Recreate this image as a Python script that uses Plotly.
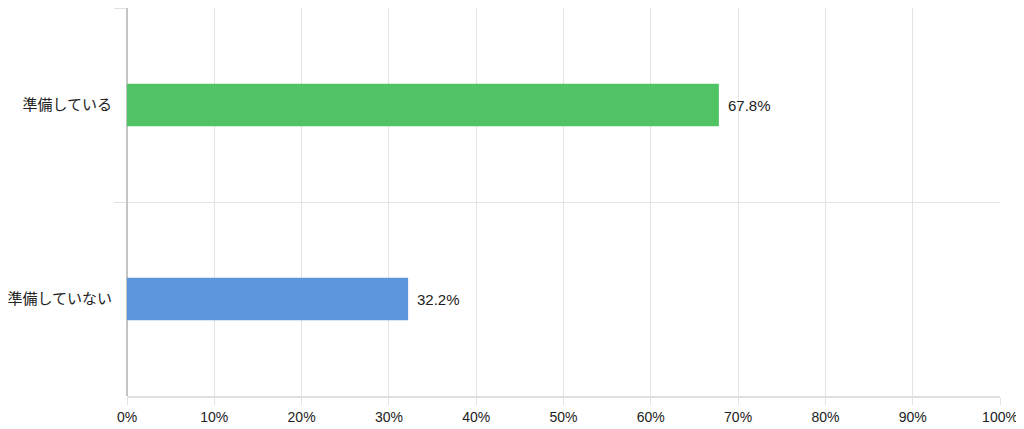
import plotly.graph_objects as go

# 回答データ
categories = ["準備している", "準備していない"]
values = [0.678, 0.322]
bar_colors = ["#50c364", "#5b95db"]
x_ticks = [i / 10 for i in range(11)]

fig = go.Figure()
fig.add_trace(go.Bar(
    x=values,
    y=categories,
    orientation="h",
    width=0.22,
    marker=dict(color=bar_colors, line=dict(width=0)),
    hoverinfo="skip",
))

# 数値ラベル
for v, c in zip(values, categories):
    fig.add_annotation(x=v, y=c, text=f"{v * 100:.1f}%", showarrow=False,
                       xanchor="left", xshift=7,
                       font=dict(size=15, color="#222222"))

# ページの余白(8px)を差し引いたサイズ
fig.update_layout(
    width=1016, height=421,
    margin=dict(l=119, r=24, t=0, b=33),
    paper_bgcolor="white", plot_bgcolor="white",
    showlegend=False,
    font=dict(family="Liberation Sans, Noto Sans CJK JP, sans-serif", size=14, color="#222222"),
)
fig.update_xaxes(
    range=[0, 1], tickvals=x_ticks, tickformat=".0%",
    showgrid=True, gridcolor="#e3e3e3", gridwidth=1,
    ticks="outside", ticklen=7, tickcolor="#e3e3e3",
    zeroline=True, zerolinecolor="#c4c4c4", zerolinewidth=2,
    showline=True, linecolor="#e0e0e0", linewidth=2, mirror=True,
    tickfont=dict(size=14, color="#222222"), automargin=False,
)
fig.update_yaxes(
    type="category", categoryorder="array", categoryarray=categories,
    autorange="reversed", tickson="boundaries",
    showgrid=True, gridcolor="#e3e3e3", gridwidth=1,
    ticks="outside", ticklen=12, tickcolor="#e0e0e0",
    showline=False, ticklabelstandoff=14,
    tickfont=dict(size=15, color="#222222"), automargin=False,
)

fig.write_html("out.html")
